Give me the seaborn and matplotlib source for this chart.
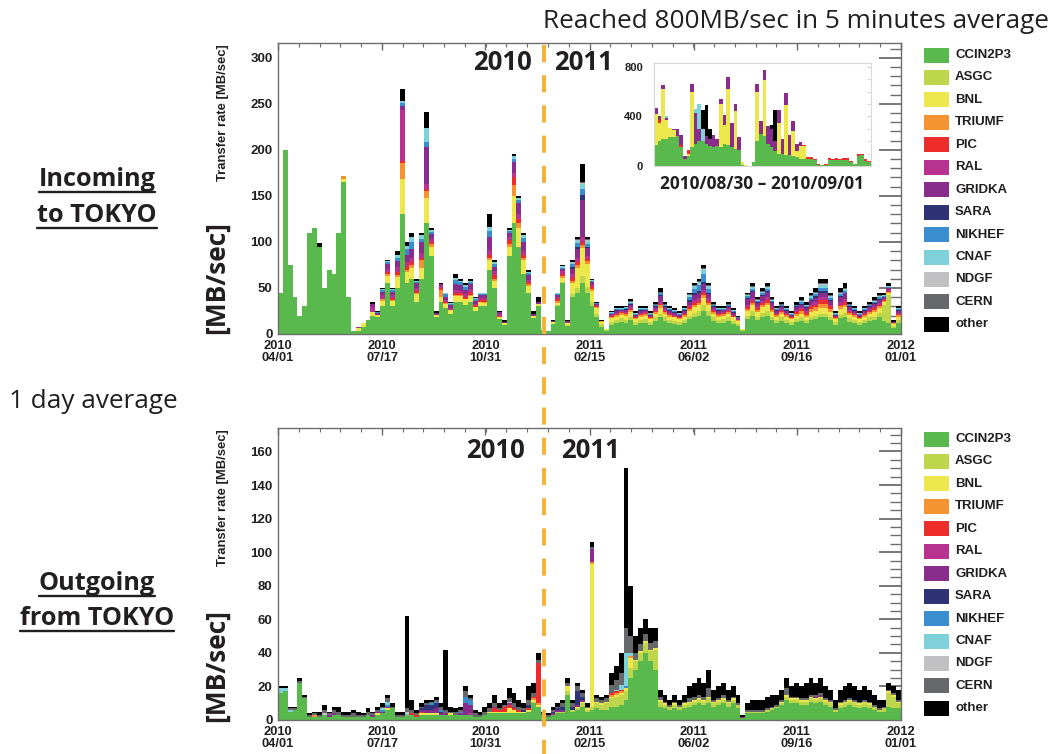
import numpy as np
import pandas as pd
import matplotlib
matplotlib.use("Agg")
import matplotlib.pyplot as plt
from matplotlib.lines import Line2D
from matplotlib.patches import Rectangle
from matplotlib.ticker import MultipleLocator
import seaborn as sns

sns.set_style("white")
plt.rcParams["font.family"] = ["Liberation Sans", "DejaVu Sans"]

# ---------------------------------------------------------------- data
SITES = ["CCIN2P3", "ASGC", "BNL", "TRIUMF", "PIC", "RAL", "GRIDKA",
         "SARA", "NIKHEF", "CNAF", "NDGF", "CERN", "other"]
COLORS = ["#5ab94d", "#bdd64b", "#ebe74c", "#f59232", "#ee2c2c", "#b8338f",
          "#882d8b", "#2e3375", "#3a8dcf", "#7fd1d9", "#c1c1c3", "#67686b",
          "#000000"]

TICK_DAYS = [0, 107, 213, 320, 427, 533, 640]
TICK_LABELS = ["2010\n04/01", "2010\n07/17", "2010\n10/31", "2011\n02/15",
               "2011\n06/02", "2011\n09/16", "2012\n01/01"]
BIN_DAYS = 5          # each value = 5-day block starting 2010/04/01

# ---- Incoming to TOKYO  [MB/sec], 128 five-day blocks
in_ccin2p3 = [45,200,75,40,20,30,110,115,95,50, 70,65,110,165,40,3,3,8,15,20,
              18,30,55,30,50,130,55,60,35,60, 120,85,18,35,28,22,35,35,32,35,
              25,30,30,70,50,16,10,85,120,95, 65,45,17,30,4,3,11,30,55,9,
              40,45,55,45,30,18,8,3,10,12, 13,12,15,10,12,12,10,14,18,14,
              12,11,10,12,16,18,20,25,20,14, 12,12,14,11,9,3,16,20,15,18,
              20,15,12,14,12,10,13,14,12,15, 16,18,18,15,10,17,18,13,12,10,
              12,14,15,18,14,12,6,12]
in_asgc = [0,0,0,0,0,0,0,0,0,0, 0,0,0,0,0,0,0,0,0,0,
           0,0,0,0,0,0,0,0,0,0, 0,0,0,0,0,0,0,0,0,0,
           0,0,0,0,0,0,0,0,0,0, 0,0,0,0,0,0,0,1,2,1,
           3,5,8,6,5,4,3,1,3,3, 4,3,4,3,3,4,3,4,4,4,
           3,3,3,3,4,5,5,6,5,4, 3,4,4,3,2,1,4,5,4,5,
           5,4,3,4,3,3,3,4,3,4, 4,4,4,4,3,4,5,4,3,3,
           3,4,4,5,18,30,3,3]
in_bnl = [0,0,0,0,0,0,0,0,0,0, 0,0,0,3,0,0,3,4,0,4,
          3,6,8,6,12,38,12,12,8,12, 28,10,3,5,5,4,6,6,6,6,
          4,5,4,10,8,3,2,10,30,20, 15,7,3,3,0,0,2,3,4,2,
          12,22,30,25,12,6,2,1,4,4, 4,5,5,3,4,4,3,4,6,4,
          4,4,3,4,5,6,6,8,6,4, 4,4,4,4,3,1,5,6,5,6,
          6,5,4,4,4,3,4,4,4,5, 5,6,6,5,3,6,6,4,4,3,
          4,4,5,5,3,3,2,4]
in_triumf = [0,0,0,0,0,0,0,0,0,0, 0,0,0,4,0,0,0,0,0,0,
             0,2,2,1,2,18,3,3,2,8, 7,3,0,8,1,0,1,1,0,1,
             0,0,1,2,2,0,0,3,12,6, 3,2,0,0,0,0,0,2,2,0,
             3,3,4,3,2,1,1,0,2,2, 2,2,2,1,2,2,1,2,3,2,
             2,1,1,2,2,3,3,3,3,2, 2,2,2,1,1,0,2,3,2,3,
             3,2,2,2,2,1,2,3,2,3, 4,5,5,3,1,3,3,2,2,1,
             2,2,2,2,1,1,1,2]
in_pic = [0,0,0,0,0,0,0,0,0,0, 0,0,0,0,0,0,0,0,0,0,
          0,0,2,2,3,2,3,3,2,3, 3,2,0,2,1,0,2,2,2,4,
          2,2,2,4,4,1,0,4,8,4, 3,2,0,0,0,0,0,2,2,0,
          3,3,3,2,2,1,0,0,1,1, 1,1,1,1,1,1,1,1,2,1,
          1,1,1,1,2,2,2,3,2,1, 1,1,1,1,0,0,2,2,2,2,
          3,2,1,1,1,1,2,2,2,3, 3,4,4,3,1,2,3,1,1,1,
          1,1,2,2,1,1,0,1]
in_ral = [0,0,0,0,0,0,0,0,0,0, 0,0,0,0,0,0,2,0,0,5,
          0,4,4,3,6,55,5,5,3,5, 5,3,0,2,2,2,4,3,3,3,
          2,2,2,5,4,2,0,3,5,5, 4,3,0,0,0,0,0,2,3,1,
          4,4,5,4,2,1,0,0,1,1, 1,1,2,1,1,1,1,2,3,2,
          1,1,1,1,2,3,3,3,3,2, 1,1,2,1,1,0,3,3,2,2,
          3,2,1,2,1,1,2,2,2,2, 3,3,3,2,1,3,3,2,1,1,
          1,2,2,2,1,1,0,1]
in_gridka = [0,0,0,0,0,0,0,0,0,0, 0,0,0,0,0,0,0,0,0,4,
             2,4,5,4,6,5,8,9,5,12, 40,6,2,2,3,3,6,6,5,5,
             3,3,3,14,5,2,1,5,12,12, 10,5,2,2,0,0,1,2,3,1,
             6,10,40,8,3,2,0,0,1,2, 1,2,3,2,2,2,2,2,5,2,
             2,2,2,2,4,5,5,6,4,2, 2,2,2,2,1,0,6,7,4,5,
             6,4,2,2,2,2,3,3,3,4, 4,5,5,4,2,5,6,3,2,2,
             2,2,3,3,2,2,1,2]
in_sara = [0,0,0,0,0,0,0,0,0,0, 0,0,0,0,0,0,0,0,0,0,
           0,0,0,0,0,0,0,0,0,0, 0,0,0,0,0,0,0,0,0,0,
           0,0,0,0,0,0,0,0,0,0, 0,0,0,0,0,0,0,0,0,0,
           2,3,6,2,1,0,0,0,0,1, 0,1,1,0,1,0,0,1,1,1,
           1,1,0,1,2,2,3,3,2,1, 1,0,1,1,0,0,1,1,1,1,
           1,1,1,1,1,0,1,1,1,1, 2,2,2,1,0,1,1,1,1,0,
           1,1,1,1,0,0,0,1]
in_nikhef = [0,0,0,0,0,0,0,0,0,0, 0,0,0,0,0,0,0,0,0,0,
             1,2,2,2,4,3,6,8,2,3, 5,2,0,0,3,2,5,3,3,2,
             2,1,1,7,3,0,0,2,3,3, 4,2,0,0,0,0,0,1,1,0,
             3,4,6,3,1,1,0,0,1,1, 1,1,1,1,1,1,1,1,2,1,
             1,1,1,1,3,5,6,8,4,1, 1,1,1,1,1,0,2,2,1,2,
             2,1,1,1,1,1,1,2,1,2, 2,3,3,2,1,2,2,1,1,1,
             1,1,1,2,1,1,0,1]
in_cnaf = [0,0,0,0,0,0,0,0,0,0, 0,0,0,0,0,0,0,0,0,0,
           0,1,1,1,3,2,4,5,1,4, 16,2,0,0,1,1,2,2,2,2,
           1,1,1,4,2,0,0,1,3,3, 3,1,0,0,0,0,0,1,2,0,
           2,2,6,3,1,0,0,0,1,1, 1,1,1,1,1,1,1,1,1,1,
           1,1,1,1,2,3,3,5,3,1, 1,1,1,1,0,0,1,2,1,2,
           2,1,1,1,1,1,1,1,1,2, 2,3,3,2,1,2,2,1,1,1,
           1,1,1,1,1,1,0,1]
in_ndgf = [0,0,0,0,0,0,0,0,0,0, 0,0,0,0,0,0,0,0,0,0,
           0,0,0,0,0,0,0,0,0,0, 0,0,0,0,0,0,0,0,0,0,
           0,0,0,0,0,0,0,0,0,0, 0,0,0,0,0,0,0,0,0,0,
           0,1,1,1,0,0,0,0,0,0, 0,0,0,0,0,0,0,0,0,0,
           0,0,0,0,0,0,1,1,0,0, 0,0,0,0,0,0,0,0,0,0,
           0,0,0,0,0,0,0,0,0,0, 0,1,1,0,0,0,0,0,0,0,
           0,0,0,0,0,0,0,0]
in_cern = [0,0,0,0,0,0,0,0,0,0, 0,0,0,0,0,0,0,0,0,0,
           0,0,0,0,0,0,0,0,0,0, 0,0,0,0,0,0,0,0,0,0,
           0,0,0,0,0,0,0,0,0,0, 0,0,0,0,0,0,0,0,0,0,
           0,1,1,1,0,0,0,0,0,0, 0,0,1,0,0,0,0,1,1,1,
           0,0,0,0,1,1,1,1,1,1, 0,0,1,0,0,0,1,1,1,1,
           1,1,0,1,0,0,0,1,1,1, 1,1,1,1,0,1,1,1,0,0,
           0,1,1,1,0,0,0,0]
in_other = [0,0,0,0,0,0,0,0,4,0, 0,0,0,0,0,0,0,0,0,2,
            1,1,1,1,4,13,4,5,2,3, 17,2,2,1,1,1,4,2,2,2,
            1,1,1,14,2,1,2,2,2,2, 3,3,3,5,0,0,1,1,1,1,
            2,2,20,2,1,1,1,0,1,2, 2,1,2,2,2,2,2,2,4,2,
            2,2,2,2,2,2,2,3,2,2, 2,2,2,2,2,0,2,3,2,3,
            3,2,2,2,2,2,3,3,3,3, 4,5,5,3,2,4,5,2,2,2,
            2,2,3,3,3,3,2,2]

# ---- Outgoing from TOKYO [MB/sec], 128 five-day blocks
out_ccin2p3 = [16,17,5,6,22,13,2,2,2,3, 2,3,3,2,2,2,2,2,3,2,
               3,4,6,7,2,2,3,3,2,3, 3,3,3,3,3,3,3,3,3,3,
               2,2,3,4,4,4,4,4,4,4, 4,5,10,8,3,2,3,4,4,15,
               5,6,8,5,6,7,6,6,8,8, 9,12,25,30,35,40,35,30,8,7,
               6,7,6,7,8,9,10,9,10,8, 9,10,8,10,7,1,4,4,4,4,
               5,6,7,9,12,10,10,9,9,11, 10,11,9,8,5,7,8,9,8,7,
               8,7,6,5,5,8,7,7]
out_asgc = [0,0,0,0,0,0,0,0,0,0, 0,0,0,0,0,0,0,0,0,0,
            0,0,0,0,0,0,0,0,0,0, 0,0,0,0,0,0,0,0,0,0,
            0,0,0,0,0,0,0,0,0,0, 0,0,1,0,0,0,0,1,1,2,
            1,1,2,1,2,3,3,4,5,6, 6,5,6,5,5,6,6,12,3,2,
            2,2,2,2,2,2,2,2,3,2, 2,2,2,2,2,0,1,1,1,1,
            1,1,1,1,2,2,2,2,2,2, 2,2,2,2,1,2,2,2,2,2,
            2,2,2,1,2,8,7,3]
out_bnl = [0,0,0,0,0,0,0,0,0,0, 0,0,0,0,0,0,0,0,0,0,
           1,0,1,0,0,0,0,0,0,1, 1,1,1,0,0,1,0,0,0,0,
           0,0,0,1,1,1,1,3,2,1, 1,1,1,1,0,0,0,0,0,3,
           0,1,1,1,85,1,1,1,1,1, 1,2,6,1,1,1,1,1,1,1,
           0,1,0,1,1,1,1,1,1,1, 1,1,1,1,0,0,0,0,0,0,
           0,0,0,1,1,1,1,1,1,1, 1,1,1,1,0,1,1,1,1,1,
           1,1,0,0,0,1,1,1]
out_triumf = [0,0,0,0,0,0,0,1,0,0, 0,0,0,0,0,0,0,0,0,0,
              0,0,0,0,0,0,0,0,0,0, 0,0,0,0,0,0,0,0,0,0,
              0,0,0,0,0,0,0,0,0,0, 0,0,1,1,0,0,0,0,0,0,
              0,0,0,0,1,0,0,0,1,1, 1,0,1,0,0,0,0,0,0,0,
              0,0,0,0,0,0,0,0,0,0, 0,0,0,0,0,0,0,0,0,0,
              0,0,0,0,0,0,0,0,0,0, 0,0,0,0,0,0,0,0,0,0,
              0,0,0,0,0,0,0,0]
out_pic = [0,0,0,0,0,0,0,0,0,0, 0,0,0,0,0,0,0,0,0,0,
           0,0,0,0,0,0,0,1,1,1, 0,0,0,0,0,0,0,0,0,0,
           0,0,0,0,2,1,3,2,1,1, 0,1,1,24,0,0,0,0,0,0,
           0,0,0,0,0,0,0,0,1,1, 1,0,0,0,0,0,0,0,0,0,
           0,0,0,0,0,0,0,0,0,0, 0,0,0,0,0,0,0,0,0,0,
           0,0,0,0,0,0,0,0,0,0, 0,0,0,0,0,0,0,0,0,0,
           0,0,0,0,0,0,0,0]
out_ral = [0,0,0,0,0,0,0,0,0,0, 0,0,0,0,0,0,0,0,0,0,
           0,0,0,0,0,0,0,0,0,0, 0,0,0,0,0,0,0,0,0,1,
           0,0,0,0,0,0,0,0,0,0, 0,0,0,0,0,0,0,0,0,0,
           0,0,0,0,0,0,0,0,0,0, 0,0,0,0,0,0,0,0,0,0,
           0,0,0,0,0,0,0,0,0,0, 0,0,0,0,0,0,0,0,0,0,
           0,0,0,0,0,0,0,0,0,0, 0,0,0,0,0,0,0,0,0,0,
           0,0,0,0,0,0,0,0]
out_gridka = [0,0,0,0,0,0,0,0,0,0, 1,1,0,0,0,0,0,0,0,1,
              1,1,1,0,0,0,0,0,0,1, 2,2,3,1,1,0,0,1,7,5,
              0,0,0,0,1,0,0,1,1,0, 0,0,0,0,0,0,1,1,1,0,
              0,1,1,0,8,0,0,0,0,0, 0,0,0,0,0,0,0,0,0,0,
              0,0,0,0,0,0,0,0,0,0, 0,0,0,0,0,1,0,0,0,0,
              0,0,0,0,0,0,0,0,0,0, 1,1,0,0,0,0,0,0,0,0,
              0,0,0,0,0,0,0,0]
out_sara = [0,0,0,0,0,0,0,0,0,0, 0,0,0,0,0,0,0,0,0,0,
            0,0,0,0,0,0,0,0,0,1, 3,3,3,1,0,0,0,0,0,0,
            0,0,0,0,0,0,0,0,0,0, 1,2,0,0,0,0,1,1,2,0,
            2,8,2,0,0,0,0,0,0,0, 0,0,0,0,0,0,0,0,0,0,
            0,0,0,0,0,0,0,0,0,0, 0,0,0,0,0,0,0,0,0,0,
            0,0,0,0,0,0,0,0,0,0, 0,0,0,0,0,0,0,0,0,0,
            0,0,0,0,0,0,0,0]
out_nikhef = [0,0,0,0,0,0,0,0,0,0, 0,0,0,0,0,0,0,0,0,0,
              0,1,1,0,0,0,0,0,0,0, 0,1,1,1,0,0,0,1,4,3,
              0,0,0,0,0,0,0,0,0,0, 0,0,0,0,0,0,0,0,0,0,
              0,0,0,0,0,0,0,0,0,0, 0,1,0,0,0,0,0,0,0,0,
              0,0,0,0,0,0,0,0,0,0, 0,0,0,0,0,0,0,0,0,0,
              0,0,0,0,0,0,0,0,0,0, 0,0,0,0,0,0,0,0,0,0,
              0,0,0,0,0,0,0,0]
out_cnaf = [3,2,1,0,0,0,0,0,0,0, 0,0,0,0,0,0,0,0,0,0,
            0,1,2,0,0,0,1,0,0,0, 0,0,0,0,0,0,0,0,0,0,
            0,0,0,0,0,0,0,0,0,0, 0,0,0,0,0,0,0,0,0,0,
            0,0,0,0,0,0,0,0,0,1, 3,20,2,0,0,0,0,0,0,0,
            0,0,0,0,0,0,0,0,0,0, 0,0,0,0,0,0,0,0,0,0,
            0,0,0,0,0,0,0,0,0,0, 0,0,0,0,0,0,0,0,0,0,
            0,0,0,0,0,0,0,0]
out_ndgf = [0,0,0,0,0,0,0,0,0,1, 0,0,0,0,0,0,0,0,0,0,
            0,0,0,0,0,0,1,0,0,0, 0,0,0,0,0,0,0,0,0,0,
            0,0,0,0,0,0,0,1,0,0, 0,0,0,0,0,0,0,0,0,0,
            0,0,0,0,0,0,0,0,0,0, 0,0,0,0,0,0,0,0,0,0,
            0,0,0,0,0,0,0,0,0,0, 0,0,0,0,0,0,0,0,0,0,
            0,0,0,0,0,0,0,0,0,0, 0,0,0,0,0,0,0,0,0,0,
            0,0,0,0,0,0,0,0]
out_cern = [0,0,1,1,1,1,1,1,1,2, 1,2,2,1,1,2,1,1,2,1,
            1,1,2,1,1,1,2,2,1,1, 1,1,1,2,2,1,2,1,3,1,
            2,1,2,2,2,1,1,2,2,2, 1,3,2,2,1,1,1,1,2,2,
            2,3,2,1,1,2,2,2,5,6, 7,15,10,4,4,4,4,4,2,1,
            1,1,1,1,2,2,2,2,5,1, 1,2,1,1,1,0,1,1,1,1,
            1,1,1,1,4,1,1,1,1,1, 1,1,1,1,1,1,1,1,1,1,
            1,1,1,1,1,1,1,1]
out_other = [1,1,1,1,2,1,1,1,2,3, 1,2,3,2,2,2,2,1,2,1,
             2,2,2,2,2,2,55,6,2,2, 2,1,2,2,36,3,2,2,3,2,
             2,2,3,3,5,3,3,6,6,4, 3,8,6,4,1,1,2,2,2,3,
             2,2,2,2,3,2,2,2,7,8, 12,95,30,10,10,9,9,8,4,4,
             3,4,3,4,7,8,10,8,11,6, 7,7,6,6,5,1,4,6,6,6,
             7,7,6,6,6,6,8,7,9,10, 7,9,7,6,5,7,8,9,8,7,
             8,7,6,5,4,4,4,6]

# ---- inset: 5-minute averages 2010/08/30 - 2010/09/01 (60 time slices)
INSET_SITES = ["CCIN2P3", "BNL", "PIC", "GRIDKA", "CNAF", "other"]
in5_ccin2p3 = [170,200,220,220,230,230,240,150,60,80, 150,180,200,200,180,160,150,160,150,180,
               170,150,140,130,10,0,0,30,200,260, 240,180,150,120,100,100,90,90,80,70,
               60,60,55,55,50,10,5,10,45,45, 45,45,50,50,30,15,80,90,40,30]
in5_bnl = [250,150,400,150,80,60,0,0,0,20, 450,0,0,0,0,0,0,0,350,150,
           450,0,300,0,20,10,0,0,400,0, 450,0,0,0,250,0,400,0,200,50,
           100,100,0,0,0,0,0,0,0,0, 0,0,0,0,0,0,0,0,0,0]
in5_pic = [0,20,0,0,0,0,0,20,0,30, 0,0,0,0,0,0,0,0,0,0,
           0,0,0,0,0,0,0,0,0,0, 0,0,0,0,0,0,0,0,0,0,
           0,10,15,15,10,10,5,5,20,15, 20,15,15,15,10,5,20,10,20,10]
in5_gridka = [50,30,30,20,0,10,60,80,20,0, 60,250,100,0,60,60,100,60,40,80,
              100,200,60,100,0,0,0,0,60,100, 80,140,150,80,100,120,100,160,80,60,
              30,0,0,0,0,0,0,0,0,0, 0,0,0,0,0,0,0,0,0,0]
in5_cnaf = [0,0,0,10,0,0,0,0,0,0, 0,30,200,100,0,0,0,0,0,0,
            0,0,0,0,0,0,0,0,0,0, 0,0,0,0,0,0,0,0,0,0,
            0,0,0,0,0,0,0,0,0,0, 0,0,0,0,0,0,0,0,0,0]
in5_other = [0,0,0,0,0,0,0,0,0,0, 0,0,0,150,250,80,0,0,0,0,
             0,0,0,0,0,0,0,0,0,0, 0,0,30,250,0,0,0,0,0,0,
             0,0,0,0,0,0,0,0,0,0, 0,0,0,0,0,0,0,0,0,0]

INCOMING = [in_ccin2p3, in_asgc, in_bnl, in_triumf, in_pic, in_ral, in_gridka,
            in_sara, in_nikhef, in_cnaf, in_ndgf, in_cern, in_other]
OUTGOING = [out_ccin2p3, out_asgc, out_bnl, out_triumf, out_pic, out_ral, out_gridka,
            out_sara, out_nikhef, out_cnaf, out_ndgf, out_cern, out_other]
INSET = [in5_ccin2p3, in5_bnl, in5_pic, in5_gridka, in5_cnaf, in5_other]

for s in INCOMING + OUTGOING:
    assert len(s) == 128, len(s)
for s in INSET:
    assert len(s) == 60, len(s)

PALETTE = dict(zip(SITES, COLORS))
TXT = "#231f20"
SANS2 = ["Open Sans", "DejaVu Sans"]

# ---------------------------------------------------------------- figure
W, H = 1056, 754
fig = plt.figure(figsize=(W / 100, H / 100), dpi=100)


def fx(px):
    return px / W


def fy(py):
    return 1 - py / H


def stacked(ax, sites, series, n, width):
    frames = []
    for site, vals in zip(sites, series):
        frames.append(pd.DataFrame({"t": np.arange(n) * width + width / 2,
                                    "rate": np.asarray(vals, dtype=float),
                                    "site": site}))
    df = pd.concat(frames, ignore_index=True)
    sns.histplot(data=df, x="t", weights="rate", hue="site",
                 hue_order=sites[::-1], multiple="stack",
                 bins=n, binrange=(0, n * width), palette=PALETTE,
                 alpha=1, linewidth=0, legend=False, ax=ax)


def style_panel(ax, ymax, ymaj, ymin):
    ax.set_xlim(0, 640)
    ax.set_ylim(0, ymax)
    ax.set_xlabel("")
    ax.set_ylabel("")
    ax.set_xticks(TICK_DAYS)
    ax.set_xticklabels(TICK_LABELS, fontsize=9.3, fontweight="bold",
                       color=TXT, linespacing=1.05)
    ax.xaxis.set_minor_locator(MultipleLocator(640 / 30))
    ax.yaxis.set_major_locator(MultipleLocator(ymaj))
    ax.yaxis.set_minor_locator(MultipleLocator(ymin))
    for lbl in ax.get_yticklabels():
        lbl.set_fontweight("bold")
    ax.tick_params(axis="both", which="both", direction="in", top=True,
                   right=True, colors="#6d6d6d")
    ax.tick_params(axis="y", which="major", length=16, width=1.3,
                   labelsize=9.5, labelcolor=TXT, pad=4)
    ax.tick_params(axis="y", which="minor", length=8, width=1)
    ax.tick_params(axis="x", which="major", length=5, width=1,
                   labelcolor=TXT, pad=4)
    ax.tick_params(axis="x", which="minor", length=3, width=0.8)
    for sp in ax.spines.values():
        sp.set_color("#6d6d6d")
        sp.set_linewidth(1.0)
    ax.set_facecolor("white")


# main panels
ax_in = fig.add_axes([fx(278), fy(334), fx(901) - fx(278), fy(43) - fy(334)])
stacked(ax_in, SITES, INCOMING, 128, BIN_DAYS)
style_panel(ax_in, 316, 50, 10)

ax_out = fig.add_axes([fx(278), fy(720), fx(901) - fx(278), fy(428) - fy(720)])
stacked(ax_out, SITES, OUTGOING, 128, BIN_DAYS)
style_panel(ax_out, 174, 20, 5)

# inset
ax5 = fig.add_axes([fx(654), fy(166), fx(871) - fx(654), fy(63) - fy(166)])
stacked(ax5, INSET_SITES, INSET, 60, 1)
ax5.set_xlim(0, 60)
ax5.set_ylim(0, 830)
ax5.set_xlabel("")
ax5.set_ylabel("")
ax5.set_yticks([0, 400, 800])
ax5.set_xticks([])
ax5.yaxis.set_minor_locator(MultipleLocator(100))
ax5.tick_params(axis="y", which="both", direction="in", right=True,
                colors="#cfcfcf", length=3, labelsize=8, labelcolor=TXT, pad=8)
for lbl in ax5.get_yticklabels():
    lbl.set_fontweight("bold")
for sp in ax5.spines.values():
    sp.set_color("#d8d8d8")
    sp.set_linewidth(0.8)

# legends (manual, same order as the stack)
for y0 in (55, 439):
    for i, (site, col) in enumerate(zip(SITES, COLORS)):
        yc = y0 + i * 22.45
        fig.add_artist(Rectangle((fx(924), fy(yc + 7.5)), fx(25), 15 / H,
                                 transform=fig.transFigure, facecolor=col,
                                 edgecolor="none"))
        fig.text(fx(955), fy(yc), site, fontsize=9.5, fontweight="bold",
                 color=TXT, ha="left", va="center")

# axis titles
for yc_small, yc_big in ((113, 277), (498, 666)):
    fig.text(fx(223), fy(yc_small), "Transfer rate [MB/sec]", rotation=90,
             fontsize=9.4, fontweight="bold", color=TXT, ha="center", va="center")
    fig.text(fx(216), fy(yc_big), "[MB/sec]", rotation=90, fontsize=19,
             fontweight="bold", color=TXT, ha="center", va="center",
             family=SANS2)

# year markers
for (x10, x11, yy) in ((502, 583, 63), (495, 590, 450)):
    fig.text(fx(x10), fy(yy), "2010", fontsize=18.5, fontweight="bold", color=TXT,
             ha="center", va="center", family=SANS2)
    fig.text(fx(x11), fy(yy), "2011", fontsize=18.5, fontweight="bold", color=TXT,
             ha="center", va="center", family=SANS2)

# dashed year boundary
fig.add_artist(Line2D([fx(543.5), fx(543.5)], [fy(45), fy(754)],
                      transform=fig.transFigure, color="#f4b33a", lw=2.9,
                      linestyle=(0, (4.25, 3.25))))

# annotation texts
fig.text(fx(1049), fy(22), "Reached 800MB/sec in 5 minutes average",
         fontsize=18.8, color=TXT, ha="right", va="center", family=SANS2)
fig.text(fx(9), fy(402), "1 day average", fontsize=18.8, color=TXT,
         ha="left", va="center", family=SANS2)
fig.text(fx(762), fy(184), "2010/08/30 \u2013 2010/09/01", fontsize=12.4,
         fontweight="bold", color=TXT, ha="center", va="center", family=SANS2)

side_texts = []
for txt, yy in (("Incoming", 186), ("to TOKYO", 222),
                ("Outgoing", 590), ("from TOKYO", 625)):
    t = fig.text(fx(97), fy(yy), txt, fontsize=18.2, fontweight="bold",
                 color=TXT, ha="center", va="baseline", family=SANS2)
    side_texts.append(t)

fig.canvas.draw()
renderer = fig.canvas.get_renderer()
for t in side_texts:
    bb = t.get_window_extent(renderer)
    _, yb = t.get_transform().transform(t.get_position())
    yline = (yb - 6) / H
    fig.add_artist(Line2D([bb.x0 / W, bb.x1 / W], [yline, yline],
                          transform=fig.transFigure, color=TXT, lw=1.7))

fig.savefig("out.png", dpi=100, facecolor="white")
